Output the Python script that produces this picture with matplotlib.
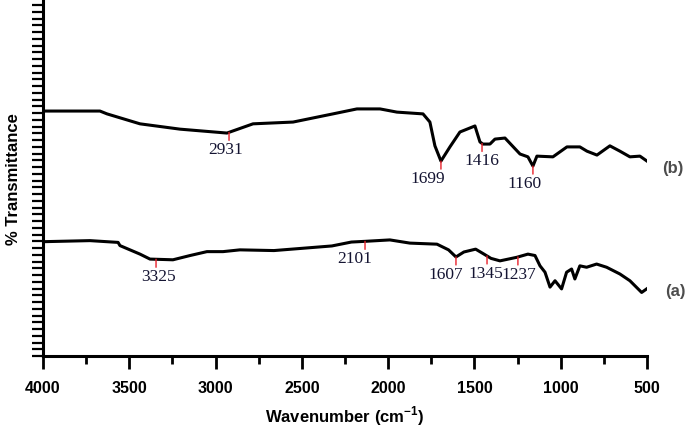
import matplotlib
matplotlib.use("Agg")
import matplotlib.pyplot as plt
import numpy as np

# FTIR spectra (wavenumber in cm-1, % transmittance)
wn_b = [4000, 3670, 3629, 3438, 3206, 2934, 2783, 2551, 2320, 2181, 2047, 1949, 1798,
        1758, 1729, 1694, 1642, 1584, 1497, 1468, 1451, 1410, 1381, 1323, 1236, 1190,
        1161, 1138, 1045, 964, 889, 848, 790, 715, 657, 599, 541, 500]
tr_b = [69.0, 69.0, 68.2, 65.4, 63.9, 62.8, 65.4, 65.9, 68.2, 69.6, 69.6, 68.7, 68.2,
        65.9, 59.2, 54.9, 58.9, 63.1, 64.8, 60.3, 59.7, 59.7, 61.1, 61.4, 56.9, 56.1,
        53.5, 56.3, 56.1, 58.9, 58.9, 57.7, 56.6, 59.2, 57.7, 56.1, 56.3, 54.9]

wn_a = [4000, 3728, 3565, 3554, 3438, 3380, 3247, 3148, 3050, 2957, 2859, 2662, 2326,
        2213, 2134, 1990, 1874, 1717, 1650, 1607, 1561, 1493, 1448, 1404, 1352, 1255,
        1190, 1149, 1120, 1091, 1062, 1033, 995, 966, 937, 918, 889, 850, 792, 734,
        657, 599, 531, 502]
tr_a = [32.2, 32.5, 32.0, 31.1, 28.7, 27.3, 27.1, 28.3, 29.4, 29.4, 29.9, 29.7, 31.0,
        32.1, 32.3, 32.7, 31.8, 31.5, 29.9, 27.9, 29.3, 30.1, 28.8, 27.5, 26.8, 27.8,
        28.7, 28.3, 25.4, 23.6, 19.4, 21.2, 18.9, 23.6, 24.5, 21.7, 25.4, 25.0, 25.9,
        25.0, 23.1, 21.2, 17.9, 18.9]

# peak marks: where the red tick sits, the printed label, label x shift (px)
peaks_b = [2922, 1694, 1456, 1161]
labels_b = ["2931", "1699", "1416", "1160"]
shift_b = [-3, -13, 0, -8]
peaks_a = [3345, 2134, 1607, 1427, 1248]
labels_a = ["3325", "2101", "1607", "1345", "1237"]
shift_a = [2, -10, -10, -1, 1]

plt.rcParams["font.family"] = ["Liberation Sans", "DejaVu Sans"]
plt.rcParams["mathtext.fontset"] = "custom"
plt.rcParams["mathtext.bf"] = "Liberation Sans:bold"

fig = plt.figure(figsize=(6.85, 4.31), dpi=100)
ax = fig.add_axes([43 / 685, 1 - 357 / 431, 604 / 685, 355 / 431])

ax.plot(wn_b, tr_b, color="black", lw=2.2, solid_joinstyle="round")
ax.plot(wn_a, tr_a, color="black", lw=2.2, solid_joinstyle="round")

px = 72 / 100  # points per pixel


def mark(wn, tr, peaks, labels, shifts):
    xs = np.array(wn[::-1])
    ys = np.array(tr[::-1])
    for p, lab, s in zip(peaks, labels, shifts):
        yc = np.interp(p, xs, ys)
        ax.annotate("", xy=(p, yc), xytext=(0, -8 * px), textcoords="offset points",
                    arrowprops=dict(arrowstyle="-", color="#e8202a", lw=1.0,
                                    shrinkA=0, shrinkB=0))
        ax.annotate(lab, xy=(p, yc), xytext=(s * px, -9 * px), textcoords="offset points",
                    ha="center", va="top", fontsize=12.5, color="#141432",
                    family=["Liberation Serif"])


mark(wn_b, tr_b, peaks_b, labels_b, shift_b)
mark(wn_a, tr_a, peaks_a, labels_a, shift_a)

ax.annotate("(b)", xy=(wn_b[-1], tr_b[-1]), xytext=(15 * px, -6 * px),
            textcoords="offset points", ha="left", va="center",
            fontsize=12, fontweight="bold", color="#4d4d4d", annotation_clip=False)
ax.annotate("(a)", xy=(wn_a[-1], tr_a[-1]), xytext=(18 * px, -2 * px),
            textcoords="offset points", ha="left", va="center",
            fontsize=12, fontweight="bold", color="#4d4d4d", annotation_clip=False)

ax.set_xlim(4000, 500)
ax.set_ylim(0, 100)
ax.set_xticks(np.arange(4000, 499, -500))
ax.set_xticks(np.arange(3750, 500, -500), minor=True)
ax.set_yticks(np.arange(0, 100.1, 1.9))
ax.set_yticklabels([])

for side in ["top", "right"]:
    ax.spines[side].set_visible(False)
for side in ["left", "bottom"]:
    ax.spines[side].set_linewidth(2.2)

ax.tick_params(axis="x", which="major", length=9.5, width=2, pad=8,
               labelsize=11.5, direction="out")
ax.tick_params(axis="x", which="minor", length=5.5, width=2, direction="out")
ax.tick_params(axis="y", which="major", length=8, width=1.6, direction="out")
for t in ax.get_xticklabels():
    t.set_fontweight("bold")

ax.set_xlabel(r"Wavenumber (cm$^{\mathbf{-1}}$)", fontsize=12, fontweight="bold", labelpad=6)
ax.set_ylabel("% Transmittance", fontsize=12, fontweight="bold")
ax.yaxis.set_label_coords(-0.036, 0.5)

fig.savefig("out.png", dpi=100)
